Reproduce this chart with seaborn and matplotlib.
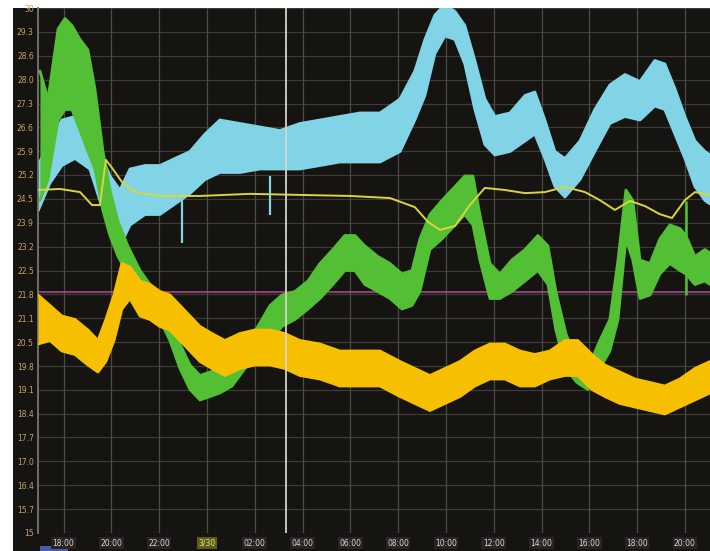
import matplotlib
matplotlib.use("Agg")
import matplotlib.pyplot as plt
from matplotlib.patches import Rectangle
import seaborn as sns
import pandas as pd

# ---- time axis: hours relative to midnight (0 = 3/30 00:00) ----
tick_hours = [-6, -4, -2, 0, 2, 4, 6, 8, 10, 12, 14, 16, 18, 20]
tick_labels = ["18:00", "20:00", "22:00", "3/30", "02:00", "04:00", "06:00",
               "08:00", "10:00", "12:00", "14:00", "16:00", "18:00", "20:00"]
y_ticks = [15.0, 15.68, 16.36, 17.05, 17.73, 18.41, 19.09, 19.77, 20.45, 21.14,
           21.82, 22.5, 23.18, 23.86, 24.55, 25.23, 25.91, 26.59, 27.27, 27.95,
           28.64, 29.32, 30.0]
y_labels = ["15", "15.7", "16.4", "17.0", "17.7", "18.4", "19.1", "19.8", "20.5",
            "21.1", "21.8", "22.5", "23.2", "23.9", "24.5", "25.2", "25.9", "26.6",
            "27.3", "28.0", "28.6", "29.3", "30"]

# ---- cyan channel: min / max envelope ----
cyan_t = [-7.07, -6.57, -6.07, -5.52, -4.90, -4.48, -4.06, -3.64, -3.22, -2.59,
          -1.97, -1.34, -0.71, -0.08, 0.54, 1.38, 2.22, 3.05, 3.89, 4.73, 5.56,
          6.40, 7.24, 8.08, 8.70, 9.12, 9.54, 9.96, 10.38, 10.79, 11.21, 11.63,
          12.05, 12.68, 13.31, 13.72, 14.14, 14.56, 14.98, 15.61, 16.23, 16.86,
          17.49, 18.12, 18.74, 19.16, 19.58, 20.00, 20.42, 20.84, 21.05]
cyan_lo = [24.2, 25.0, 25.5, 25.7, 25.4, 24.5, 23.8, 23.2, 23.8, 24.1, 24.1, 24.4,
           24.7, 25.1, 25.3, 25.3, 25.4, 25.4, 25.4, 25.5, 25.6, 25.6, 25.6, 25.9,
           26.8, 27.5, 28.7, 29.2, 29.1, 28.4, 27.1, 26.1, 25.8, 25.9, 26.2, 26.4,
           25.7, 24.9, 24.6, 25.1, 25.9, 26.7, 26.9, 26.8, 27.2, 27.1, 26.4, 25.7,
           24.9, 24.5, 24.4]
cyan_hi = [25.5, 26.2, 26.8, 26.9, 26.7, 25.9, 25.2, 24.8, 25.4, 25.5, 25.5, 25.7,
           25.9, 26.4, 26.8, 26.7, 26.6, 26.5, 26.7, 26.8, 26.9, 27.0, 27.0, 27.4,
           28.2, 29.1, 29.8, 30.1, 29.9, 29.5, 28.5, 27.4, 26.9, 27.0, 27.5, 27.6,
           26.8, 25.9, 25.7, 26.2, 27.1, 27.8, 28.1, 27.9, 28.5, 28.4, 27.7, 26.9,
           26.2, 25.9, 25.8]
cyan_spike_t = [-1.05, 2.64]
cyan_spike_lo = [23.3, 24.1]

# ---- green channel ----
green_t = [-6.99, -6.65, -6.23, -5.94, -5.65, -5.31, -4.98, -4.69, -4.35, -4.06,
           -3.72, -3.31, -2.80, -2.38, -1.97, -1.55, -1.13, -0.71, -0.29, 0.13,
           0.54, 1.05, 1.59, 2.13, 2.64, 3.14, 3.68, 4.23, 4.73, 5.27, 5.77, 6.19,
           6.61, 7.15, 7.66, 8.16, 8.58, 8.91, 9.33, 9.83, 10.38, 10.79, 11.13,
           11.42, 11.84, 12.26, 12.76, 13.31, 13.85, 14.27, 14.60, 15.02, 15.48,
           15.94, 16.44, 16.86, 17.20, 17.53, 17.82, 18.12, 18.54, 18.95, 19.37,
           19.79, 20.04, 20.42, 20.84, 21.05]
green_lo = [24.5, 25.1, 26.8, 27.1, 27.1, 26.5, 25.9, 25.4, 24.2, 23.5, 22.9, 22.4,
            21.8, 21.5, 21.1, 20.5, 19.7, 19.1, 18.8, 18.9, 19.0, 19.2, 19.7, 20.1,
            20.5, 20.9, 21.1, 21.4, 21.7, 22.1, 22.5, 22.5, 22.1, 21.9, 21.7, 21.4,
            21.5, 21.9, 23.1, 23.4, 23.8, 24.1, 23.8, 22.8, 21.7, 21.7, 21.9, 22.2,
            22.5, 22.1, 20.8, 19.7, 19.3, 19.1, 19.7, 20.2, 21.1, 23.4, 22.8, 21.7,
            21.8, 22.4, 22.7, 22.5, 22.4, 22.1, 22.2, 22.1]
green_hi = [28.2, 27.4, 29.4, 29.7, 29.5, 29.1, 28.8, 27.7, 25.9, 24.8, 23.9, 23.2,
            22.5, 22.1, 21.7, 21.1, 20.4, 19.8, 19.5, 19.6, 19.7, 19.9, 20.4, 20.9,
            21.5, 21.8, 21.9, 22.2, 22.7, 23.1, 23.5, 23.5, 23.2, 22.9, 22.7, 22.4,
            22.5, 23.4, 24.1, 24.5, 24.9, 25.2, 25.2, 24.1, 22.7, 22.4, 22.8, 23.1,
            23.5, 23.2, 21.9, 20.7, 19.9, 19.7, 20.5, 21.1, 22.8, 24.8, 24.5, 22.8,
            22.7, 23.4, 23.8, 23.7, 23.5, 22.9, 23.1, 23.0]
green_spike_t = [20.04]
green_spike_lo = [21.8]
green_spike_hi = [24.5]

# ---- gold channel ----
gold_t = [-7.07, -6.57, -6.07, -5.52, -4.98, -4.56, -4.23, -3.89, -3.56, -3.22,
          -2.80, -2.38, -1.97, -1.55, -1.13, -0.71, -0.29, 0.21, 0.75, 1.38, 2.01,
          2.64, 3.26, 3.89, 4.73, 5.56, 6.40, 7.24, 8.08, 8.70, 9.33, 9.96, 10.59,
          11.21, 11.84, 12.47, 13.10, 13.72, 14.35, 14.98, 15.52, 16.11, 16.65,
          17.28, 17.91, 18.54, 19.16, 19.79, 20.42, 21.05]
gold_lo = [20.4, 20.5, 20.2, 20.1, 19.8, 19.6, 19.9, 20.5, 21.4, 21.7, 21.2, 21.1,
           20.9, 20.8, 20.5, 20.2, 19.9, 19.7, 19.5, 19.7, 19.8, 19.8, 19.7, 19.5,
           19.4, 19.2, 19.2, 19.2, 18.9, 18.7, 18.5, 18.7, 18.9, 19.2, 19.4, 19.4,
           19.2, 19.2, 19.4, 19.5, 19.5, 19.1, 18.9, 18.7, 18.6, 18.5, 18.4, 18.6,
           18.8, 19.0]
gold_hi = [21.8, 21.5, 21.2, 21.1, 20.8, 20.5, 21.1, 21.8, 22.7, 22.6, 22.2, 22.1,
           21.9, 21.8, 21.5, 21.2, 20.9, 20.7, 20.5, 20.7, 20.8, 20.8, 20.7, 20.5,
           20.4, 20.2, 20.2, 20.2, 19.9, 19.7, 19.5, 19.7, 19.9, 20.2, 20.4, 20.4,
           20.2, 20.1, 20.2, 20.5, 20.5, 20.1, 19.8, 19.6, 19.4, 19.3, 19.2, 19.4,
           19.7, 19.9]

# ---- thin yellow reference trace ----
yellow_t = [-7.07, -6.15, -5.31, -4.81, -4.48, -4.23, -3.97, -3.56, -3.01, -1.97,
            -0.29, 1.80, 3.89, 5.98, 7.66, 8.70, 9.25, 9.75, 10.38, 11.00, 11.63,
            12.47, 13.31, 14.14, 14.98, 15.82, 16.44, 17.07, 17.70, 18.33, 18.95,
            19.46, 20.00, 20.42, 21.05]
yellow_v = [24.80, 24.83, 24.74, 24.37, 24.37, 25.66, 25.43, 25.03, 24.74, 24.63,
            24.63, 24.69, 24.66, 24.63, 24.57, 24.31, 23.89, 23.66, 23.77, 24.37,
            24.86, 24.80, 24.71, 24.74, 24.89, 24.74, 24.51, 24.23, 24.49, 24.34,
            24.11, 24.00, 24.51, 24.74, 24.66]

alarm_level = 21.9
cursor_time = 3.3

CYAN = "#80d4e6"
GREEN = "#52bf34"
GOLD = "#f6c000"
YELLOW = "#dcd43c"
BG = "#161411"

sns.set_style("dark", {"axes.facecolor": BG, "figure.facecolor": "white",
                       "axes.edgecolor": BG})

fig = plt.figure(figsize=(7.1, 5.51), dpi=100, facecolor="white")
fig.patches.append(Rectangle((13 / 710, 0), 1, 543 / 551, transform=fig.transFigure,
                             facecolor=BG, edgecolor="none", zorder=-2))
fig.patches.append(Rectangle((40 / 710, 0), 28 / 710, 5 / 551, transform=fig.transFigure,
                             facecolor="#4a5cb0", edgecolor="none", zorder=-1))

ax = fig.add_axes([38 / 710, 18 / 551, 672 / 710, 525 / 551])
ax.set_zorder(1)
ax.set_facecolor(BG)
ax.set_xlim(-7.07, 21.05)
ax.set_ylim(15, 30)

# grid
for yv in y_ticks:
    ax.axhline(yv, color="#3d3b37", lw=0.9, zorder=1)
for xv in tick_hours:
    ax.axvline(xv, color="#4c4b47", lw=0.9, zorder=1)
ax.axhline(alarm_level, color="#a8468c", lw=1.2, zorder=1.5)

frames = {
    "cyan": pd.DataFrame({"t": cyan_t, "lo": cyan_lo, "hi": cyan_hi}),
    "green": pd.DataFrame({"t": green_t, "lo": green_lo, "hi": green_hi}),
    "gold": pd.DataFrame({"t": gold_t, "lo": gold_lo, "hi": gold_hi}),
}
styles = [("cyan", CYAN, 2), ("green", GREEN, 3), ("gold", GOLD, 4)]
for name, col, z in styles:
    df = frames[name]
    ax.fill_between(df["t"], df["lo"], df["hi"], color=col, lw=0, zorder=z)
    sns.lineplot(data=df, x="t", y="lo", ax=ax, color=col, lw=2.0, zorder=z)
    sns.lineplot(data=df, x="t", y="hi", ax=ax, color=col, lw=2.0, zorder=z)

for t, lo in zip(cyan_spike_t, cyan_spike_lo):
    ax.vlines(t, lo, 25.2, color=CYAN, lw=1.6, zorder=2)
ax.vlines(green_spike_t, green_spike_lo, green_spike_hi, color=GREEN, lw=1.8, zorder=3)

yellow_df = pd.DataFrame({"t": yellow_t, "v": yellow_v})
sns.lineplot(data=yellow_df, x="t", y="v", ax=ax, color=YELLOW, lw=1.4, zorder=5)

ax.axvline(cursor_time, color="#d4d4cc", lw=1.3, zorder=6)

# axes and ticks
for s in ["top", "right", "bottom"]:
    ax.spines[s].set_visible(False)
ax.spines["left"].set_color("#77766e")
ax.spines["left"].set_linewidth(1.3)
ax.set_yticks(y_ticks)
ax.set_yticklabels(y_labels)
ax.set_xticks(tick_hours)
ax.set_xticklabels(tick_labels)
ax.tick_params(axis="y", length=0, pad=3, labelsize=5.5, labelcolor="#c8a466")
ax.tick_params(axis="x", length=0, pad=4, labelsize=5.5, labelcolor="#d6d6d6")
for lbl in ax.get_xticklabels():
    if lbl.get_text() == "3/30":
        lbl.set_color("#e8e870")
        lbl.set_bbox(dict(facecolor="#5c5c1c", edgecolor="none", pad=1))
    else:
        lbl.set_bbox(dict(facecolor="#2a2322", edgecolor="none", pad=1))
ax.set_xlabel("")
ax.set_ylabel("")
ax.grid(False)

fig.savefig("out.png", dpi=100, facecolor=fig.get_facecolor())
